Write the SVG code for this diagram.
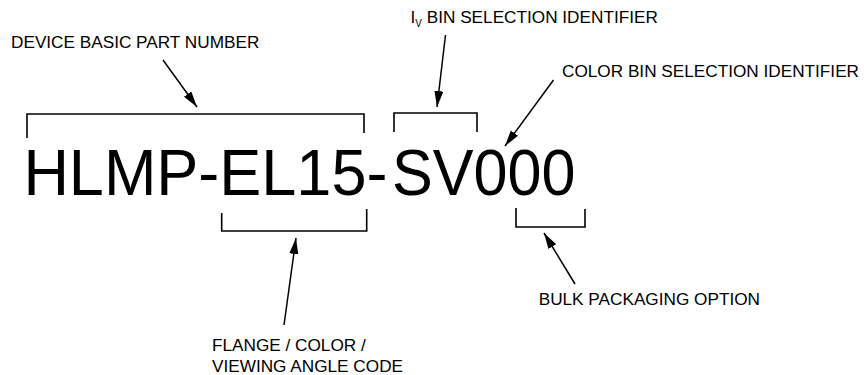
<svg xmlns="http://www.w3.org/2000/svg" width="864" height="375" viewBox="0 0 864 375">
<style>
.lbl{font-family:"Liberation Sans",Arial,Helvetica,sans-serif;font-size:17.2px;fill:#000}
.big{font-family:"Liberation Sans",Arial,Helvetica,sans-serif;font-size:65.5px;fill:#000}
.br{fill:none;stroke:#000;stroke-width:1.6}
.ar{fill:none;stroke:#000;stroke-width:1.5;marker-end:url(#ah)}
</style>
<defs>
<marker id="ah" markerUnits="userSpaceOnUse" markerWidth="17" markerHeight="10" refX="16" refY="4.5" orient="auto">
<path d="M0,0 L16,4.5 L0,9 z" fill="#000"/>
</marker>
</defs>
<rect width="864" height="375" fill="#fff"/>
<g id="part-number">
<text class="big" x="23.4" y="195" textLength="364" lengthAdjust="spacingAndGlyphs">HLMP-EL15-</text>
<text class="big" x="392" y="195" textLength="183.5" lengthAdjust="spacingAndGlyphs">SV000</text>
</g>
<g id="label-device">
<text class="lbl" x="11" y="48">DEVICE BASIC PART NUMBER</text>
<path class="br" d="M27,138 V114 H364 V133"/>
</g>
<g id="label-iv">
<text class="lbl" x="410.5" y="23">I<tspan font-size="10" dy="4">V</tspan><tspan dy="-4"> BIN SELECTION IDENTIFIER</tspan></text>
<path class="br" d="M394,132 V113 H477 V132"/>
</g>
<g id="label-color">
<text class="lbl" x="562" y="77">COLOR BIN SELECTION IDENTIFIER</text>
</g>
<g id="label-flange">
<text class="lbl" x="212" y="351">FLANGE / COLOR /</text>
<text class="lbl" x="212" y="371.5">VIEWING ANGLE CODE</text>
<path class="br" d="M221.7,213 V231 H366.7 V209"/>
</g>
<g id="label-bulk">
<text class="lbl" x="538.7" y="305">BULK PACKAGING OPTION</text>
<path class="br" d="M516,208 V227 H585 V209"/>
</g>
<g id="connectors">
<line class="ar" x1="163" y1="60" x2="197" y2="107"/>
<line class="ar" x1="445.5" y1="35" x2="437" y2="107"/>
<line class="ar" x1="553.5" y1="80" x2="505" y2="146"/>
<line class="ar" x1="284" y1="325" x2="296" y2="238"/>
<line class="ar" x1="575" y1="284" x2="544" y2="233"/>
</g>
</svg>
